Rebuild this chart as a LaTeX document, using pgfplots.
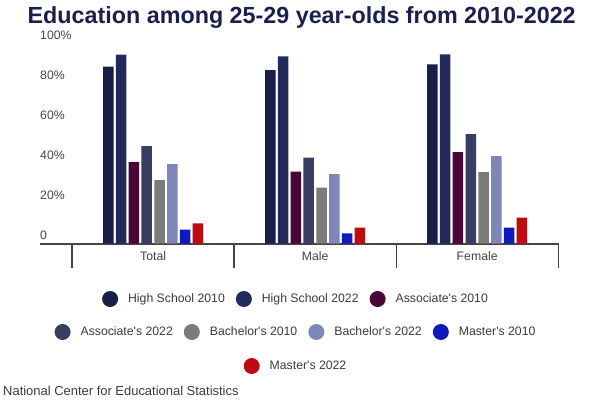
\documentclass[border=0pt]{standalone}
\usepackage{fontspec}
\setmainfont{Liberation Sans}[Ligatures=TeXOff]
\usepackage{pgfplots}
\pgfplotsset{compat=1.18}
\usepackage{pgfplotstable}

\definecolor{hsa}{HTML}{1A1F45}
\definecolor{hsb}{HTML}{222A5B}
\definecolor{asa}{HTML}{4A0639}
\definecolor{asb}{HTML}{373E62}
\definecolor{baa}{HTML}{7B7B7B}
\definecolor{bab}{HTML}{7E88B8}
\definecolor{maa}{HTML}{0D1BBD}
\definecolor{mab}{HTML}{BF0A10}
\definecolor{axisgrey}{HTML}{444444}
\definecolor{ticktext}{HTML}{444444}
\definecolor{legtext}{HTML}{3A3A3A}
\definecolor{titlecol}{HTML}{1B1F4B}

% share of 25-29 year-olds, per cent
\pgfplotstableread{
x hsa  hsb  asa  asb  baa  bab  maa  mab
0 88.5 94.5 40.8 48.8 31.8 39.8 7.0  10.2
1 86.8 93.7 36.0 43.0 28.0 34.8 5.2  8.0
2 89.7 94.7 45.8 54.8 35.8 43.8 8.0  13.0
}\edu

\pgfplotsset{
  legend image code/.code={\fill[#1] (8bp,0bp) circle (8bp);},
  legendrow/.style={
    hide axis, scale only axis, width=1bp, height=1bp,
    xmin=0, xmax=1, ymin=0, ymax=1, anchor=center,
    legend columns=-1,
    legend style={at={(0.5,0.5)}, anchor=center, draw=none, fill=none,
      font=\fontsize{12.3}{14}\selectfont, text=legtext,
      nodes={inner sep=0pt},
      /tikz/every odd column/.append style={column sep=10bp},
      /tikz/every even column/.append style={column sep=11bp}},
  },
}

\begin{document}
\begin{tikzpicture}
\useasboundingbox (0,0) rectangle (600bp,401bp);

\node[anchor=base, text=titlecol, font=\bfseries\fontsize{23.4}{26}\selectfont]
  at (301.7bp,377bp) {Education among 25-29 year-olds from 2010-2022};

\begin{axis}[
  at={(40bp,157.3bp)}, anchor=south west,
  scale only axis, width=519bp, height=200bp,
  xmin=-0.698, xmax=2.505, ymin=0, ymax=100,
  ybar=2.3bp, bar width=10.5bp,
  axis x line*=bottom, axis y line*=left,
  x axis line style={draw=axisgrey, line width=2bp, -},
  y axis line style={draw=none},
  tick align=inside, major tick length=0pt,
  xtick={0,1,2}, xticklabels={Total,Male,Female},
  extra x ticks={-0.5,0.5,1.5,2.5}, extra x tick labels={},
  extra x tick style={major tick length=24bp, tick align=outside,
    tick style={draw=axisgrey, line width=1.3bp}},
  ytick={0,20,40,60,80,100},
  yticklabels={0,20\%,40\%,60\%,80\%,100\%},
  ytick style={draw=none},
  /pgf/number format/assume math mode=true,
  yticklabel style={anchor=base west, inner sep=0pt, yshift=4.5bp,
    text=ticktext, font=\fontsize{12.3}{14}\selectfont},
  xticklabel style={anchor=base, inner sep=0pt, yshift=-17bp,
    text=ticktext, font=\fontsize{12.3}{14}\selectfont},
]
\addplot[fill=hsa, draw=none] table[x=x, y=hsa] {\edu};
\addplot[fill=hsb, draw=none] table[x=x, y=hsb] {\edu};
\addplot[fill=asa, draw=none] table[x=x, y=asa] {\edu};
\addplot[fill=asb, draw=none] table[x=x, y=asb] {\edu};
\addplot[fill=baa, draw=none] table[x=x, y=baa] {\edu};
\addplot[fill=bab, draw=none] table[x=x, y=bab] {\edu};
\addplot[fill=maa, draw=none] table[x=x, y=maa] {\edu};
\addplot[fill=mab, draw=none] table[x=x, y=mab] {\edu};
\end{axis}

\begin{axis}[legendrow, at={(295bp,102bp)}]
\addlegendimage{fill=hsa, draw=none}\addlegendentry{High School 2010}
\addlegendimage{fill=hsb, draw=none}\addlegendentry{High School 2022}
\addlegendimage{fill=asa, draw=none}\addlegendentry{Associate's 2010}
\end{axis}

\begin{axis}[legendrow, at={(295bp,69bp)}]
\addlegendimage{fill=asb, draw=none}\addlegendentry{Associate's 2022}
\addlegendimage{fill=baa, draw=none}\addlegendentry{Bachelor's 2010}
\addlegendimage{fill=bab, draw=none}\addlegendentry{Bachelor's 2022}
\addlegendimage{fill=maa, draw=none}\addlegendentry{Master's 2010}
\end{axis}

\begin{axis}[legendrow, at={(295bp,35bp)}]
\addlegendimage{fill=mab, draw=none}\addlegendentry{Master's 2022}
\end{axis}

\node[anchor=base west, inner sep=0pt, text=legtext, font=\fontsize{13}{15}\selectfont]
  at (3bp,5.3bp) {National Center for Educational Statistics};
\end{tikzpicture}
\end{document}
